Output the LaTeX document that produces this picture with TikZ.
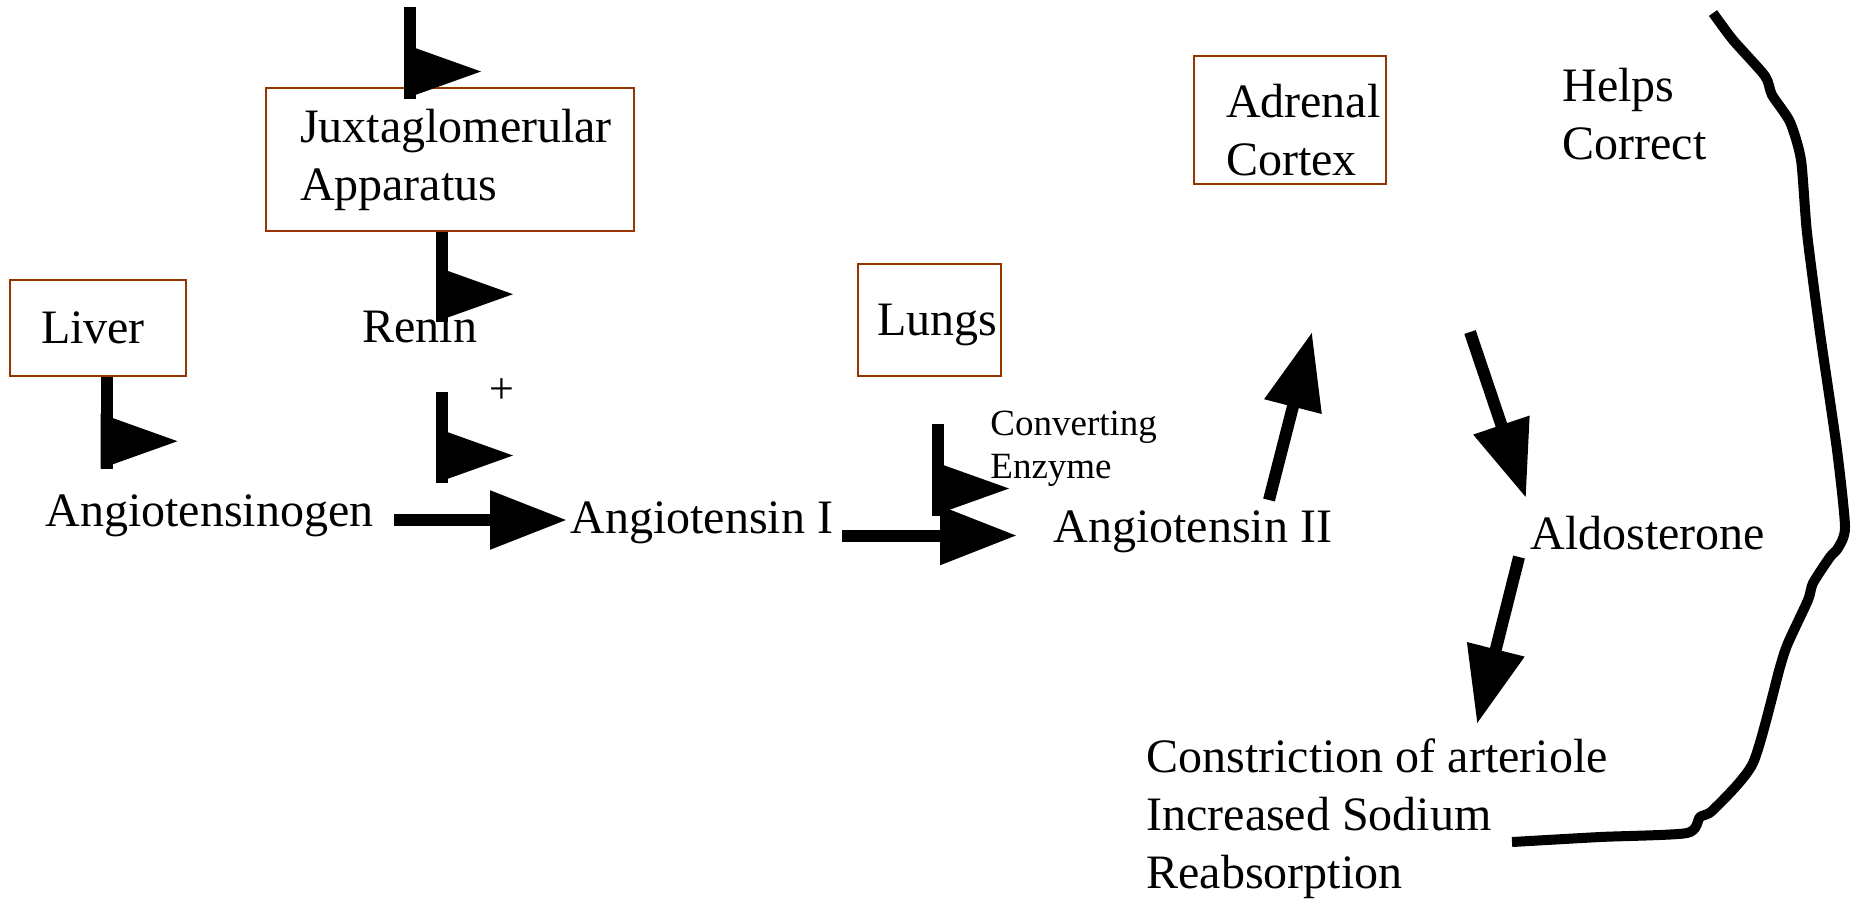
\documentclass[tikz,border=0pt]{standalone}
\usepackage{fontspec}
\setmainfont{Liberation Serif}
\usepackage{tikz}
\usetikzlibrary{arrows.meta}
\definecolor{boxbrown}{RGB}{153,51,0}

\begin{document}
\begin{tikzpicture}[x=0.5pt, y=-0.5pt,
    organ/.style={draw=boxbrown, line width=0.7pt, align=left, inner sep=0pt, font=\fontsize{24}{29}\selectfont},
    chem/.style={anchor=base west, align=left, inner sep=0pt, font=\fontsize{24}{29}\selectfont},
    small/.style={chem, font=\fontsize{18.5}{21.5}\selectfont},
    bigarrow/.style={line width=6pt, -{Triangle[length=38.5pt, width=28pt]}},
    shaft/.style={line width=6pt},
    flaghead/.pic={\fill[draw=none] (-6,0) -- (-6,-55) -- (71,-27.5) -- cycle;}]
    \useasboundingbox (0,0) rectangle (1856,901);
    % organs
    \node[organ, minimum width=184pt, minimum height=71.5pt, text width=150pt] (jga) at (450,159.5) {Juxtaglomerular\\Apparatus};
    \node[organ, minimum width=88pt, minimum height=48pt, text width=57pt] (liver) at (98,328) {Liver};
    \node[organ, minimum width=71.5pt, minimum height=56pt, text width=52.5pt, text depth=0.5pt] (lungs) at (929.5,320) {Lungs};
    \node[organ, minimum width=96pt, minimum height=64pt, text width=64pt, text depth=19.4pt] (adrenal) at (1290,120) {Adrenal\\Cortex};
    % substances
    \node[chem] (renin) at (362,342) {Renin};
    \node[chem] (agen) at (45,526) {Angiotensinogen};
    \node[chem] (ang1) at (570,533) {Angiotensin I};
    \node[chem] (ang2) at (1053,542) {Angiotensin II};
    \node[chem] (aldo) at (1530,549) {Aldosterone};
    \node[small] (ace) at (990,478) {Converting\\Enzyme};
    \node[chem] (helps) at (1562,159) {Helps\\Correct};
    \node[chem] (effect) at (1146,888) {Constriction of arteriole\\Increased Sodium\\Reabsorption};
    \node[chem, anchor=center, font=\fontsize{22}{26}\selectfont] (plus) at (502,391) {+};
    % free ends
    \coordinate (jgin) at (410,7);
    \coordinate (reninout) at (442,392);
    \coordinate (acein) at (938,424);
    \coordinate (agenout) at (394,520);
    \coordinate (ang1in) at (567,520);
    \coordinate (ang1out) at (842,535.5);
    \coordinate (ang2in) at (1017,535.5);
    \coordinate (ang2out) at (1269,500);
    \coordinate (adrenalin) at (1312,332);
    \coordinate (adrenalout) at (1470,332);
    \coordinate (aldoin) at (1526,498);
    \coordinate (aldoout) at (1519,557);
    \coordinate (effectin) at (1477,724);
    % flags
    \draw[shaft] (jgin) -- ++(0,92) pic{flaghead};
    \draw[shaft] ([xshift=-4pt]jga.south) -- ++(0,90) pic{flaghead};
    \draw[shaft] ([xshift=4.25pt]liver.south) -- ++(0,92) pic{flaghead};
    \draw[shaft] (reninout) -- ++(0,91) pic{flaghead};
    \draw[shaft] (acein) -- ++(0,92) pic{flaghead};
    % arrows
    \draw[bigarrow] (agenout) -- (ang1in);
    \draw[bigarrow] (ang1out) -- (ang2in);
    \draw[bigarrow] (ang2out) -- (adrenalin);
    \draw[bigarrow] (adrenalout) -- (aldoin);
    \draw[bigarrow] (aldoout) -- (effectin);
    % feedback bracket
    \draw[line width=5pt, line join=round] plot[smooth, tension=0.4] coordinates {
        (1713,13) (1733,40) (1765,76) (1772,95) (1790,122) (1801,160) (1807,233)
        (1820,333) (1837,450) (1845,527) (1838,548) (1830,557) (1813,583) (1808,600)
        (1788,643) (1780,667) (1753,763) (1713,810) (1700,817) (1687,833) (1600,837) (1512,842)};
\end{tikzpicture}
\end{document}
